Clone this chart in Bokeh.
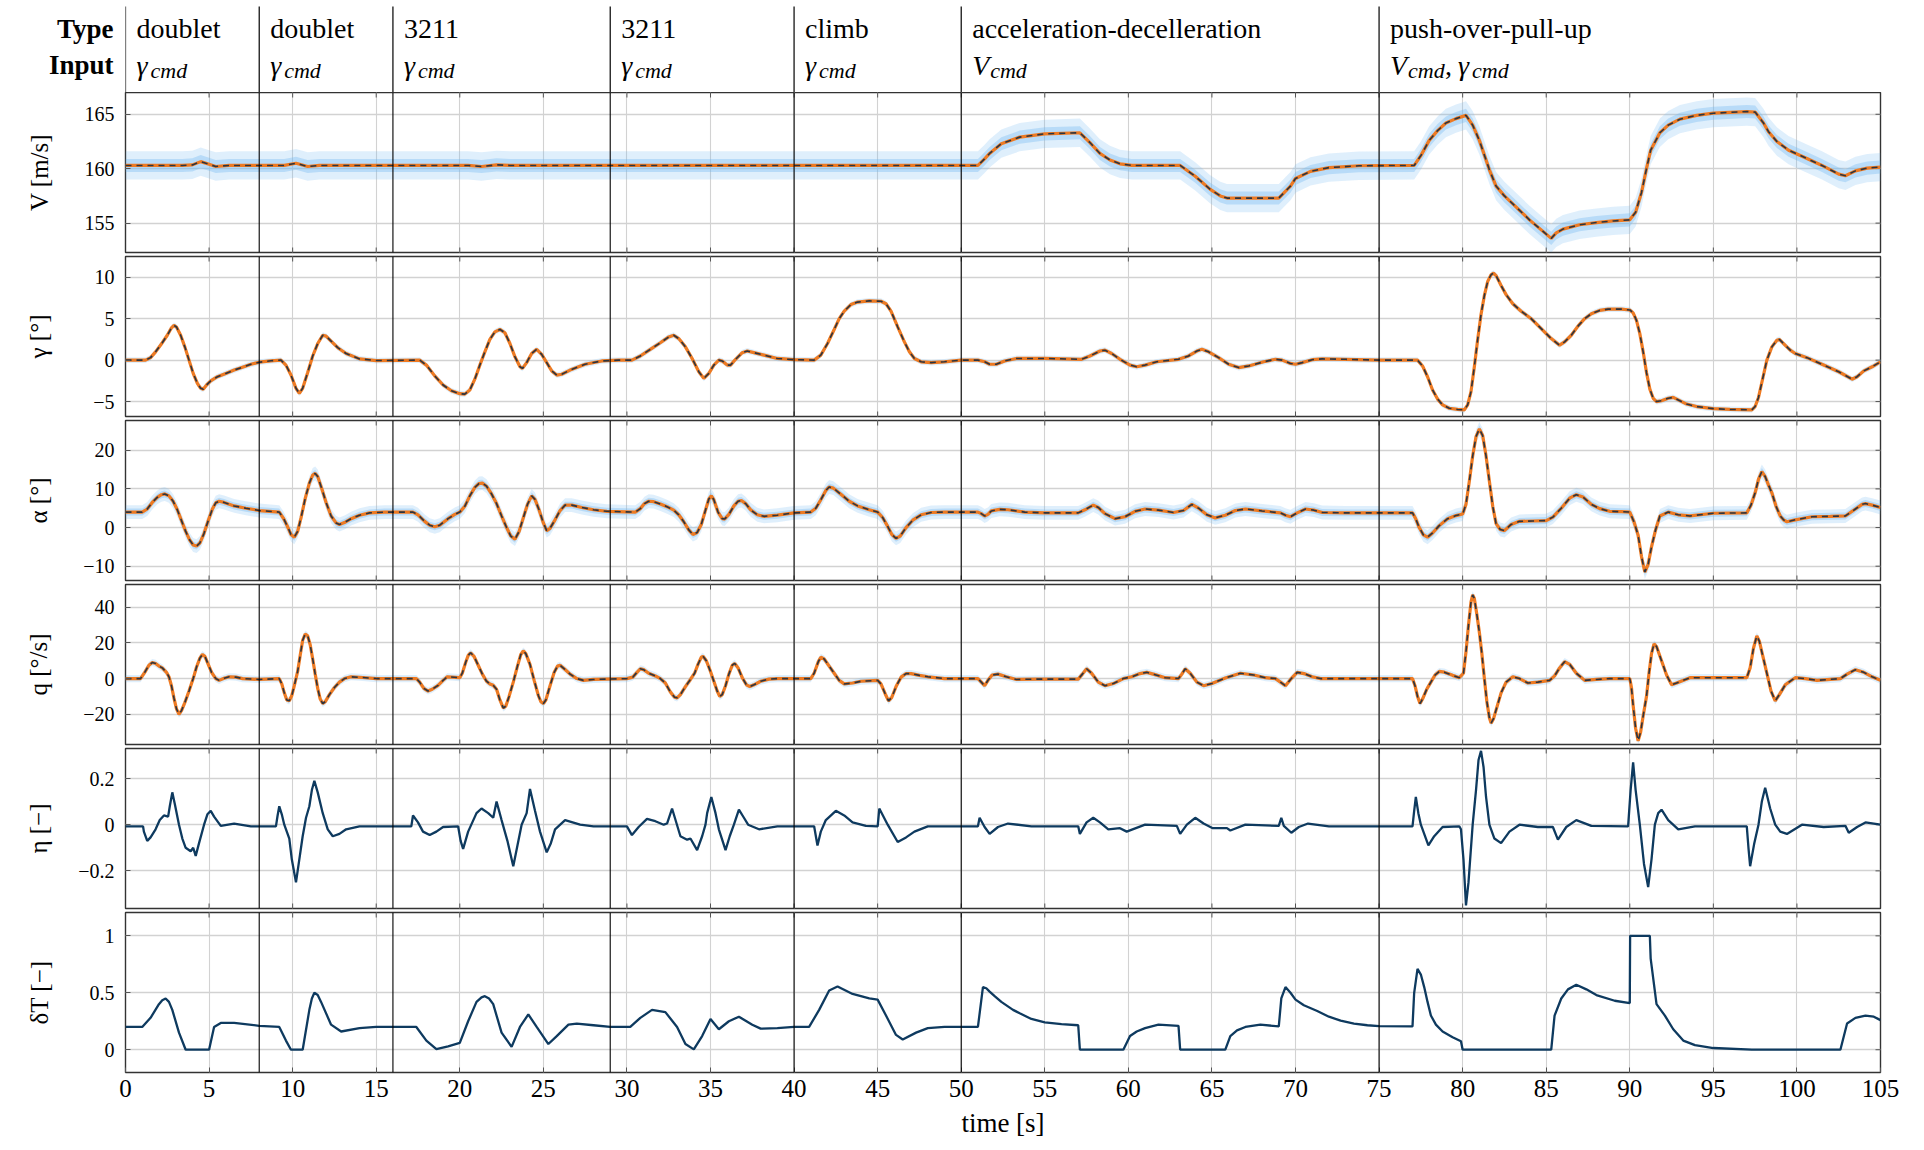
import numpy as np
from bokeh.plotting import figure
from bokeh.layouts import column
from bokeh.models import Range1d, FixedTicker, Span
from bokeh.embed import file_html
from bokeh.resources import INLINE
from bokeh.core.properties import value

SERIF = "Liberation Serif"

# manoeuvre segments of the flight test
phase_start = [0, 8, 16, 29, 40, 50, 75]
phase_type = ["doublet", "doublet", "3211", "3211", "climb",
              "acceleration-decelleration", "push-over-pull-up"]
phase_input = [["γ"], ["γ"], ["γ"], ["γ"], ["γ"], ["V"], ["V", "γ"]]
row_titles = ["Type", "Input"]

time_ticks = list(range(0, 106, 5))

# airspeed V [m/s]  (time, value)
V_data = [(0, 160.3), (3.4, 160.3), (4.0, 160.35), (4.5, 160.65), (5.0, 160.4), (5.4, 160.2),
          (6.2, 160.3), (9.5, 160.3), (10.2, 160.5), (10.9, 160.2), (11.6, 160.3), (20.5, 160.3),
          (21.3, 160.2), (22.2, 160.35), (23.0, 160.3), (35.0, 160.3), (51.0, 160.3), (51.4, 160.9),
          (51.7, 161.4), (52.4, 162.3), (53.5, 162.9), (55.0, 163.2), (57.1, 163.3), (57.7, 162.4),
          (58.3, 161.4), (58.9, 160.8), (59.5, 160.45), (60.2, 160.3), (63.1, 160.3), (64.0, 159.3),
          (64.9, 158.1), (65.5, 157.5), (65.9, 157.3), (69.0, 157.3), (69.7, 158.4), (70.0, 159.1),
          (70.9, 159.75), (72.0, 160.1), (73.8, 160.27), (77.1, 160.3), (77.5, 161.2), (78.0, 162.6),
          (78.5, 163.5), (79.0, 164.2), (79.6, 164.6), (80.2, 164.9), (80.6, 164.0), (81.0, 162.6),
          (81.6, 159.9), (82.0, 158.4), (82.5, 157.5), (83.05, 156.7), (84.0, 155.3), (85.3, 153.6),
          (85.6, 154.1), (86.0, 154.45), (87.0, 154.85), (88.0, 155.05), (89.0, 155.2), (90.0, 155.3),
          (90.35, 156.0), (90.7, 157.8), (91.0, 160.0), (91.25, 161.7), (91.8, 163.3), (92.3, 164.0),
          (93.0, 164.55), (94.0, 164.9), (95.0, 165.1), (97.0, 165.25), (97.5, 165.2), (98.0, 164.2),
          (98.3, 163.4), (98.8, 162.5), (99.5, 161.7), (100.5, 161.0), (101.5, 160.3), (102.5, 159.5),
          (102.9, 159.35), (103.5, 159.8), (104.2, 160.05), (105.0, 160.15)]

# flight path angle gamma [deg]
gamma_data = [(0, 0), (1.2, 0), (1.5, 0.3), (1.8, 1.0), (2.2, 2.1), (2.5, 3.0), (2.75, 3.9), (2.9, 4.2),
              (3.05, 4.0), (3.3, 3.0), (3.55, 1.6), (3.8, 0), (4.05, -1.6), (4.3, -2.8), (4.5, -3.4),
              (4.65, -3.5), (4.85, -3.0), (5.1, -2.5), (5.5, -2.0), (6.0, -1.6), (6.5, -1.2), (7.0, -0.85),
              (7.5, -0.5), (8.0, -0.25), (8.7, -0.08), (9.3, 0), (9.6, -0.6), (9.9, -1.8), (10.2, -3.4),
              (10.4, -4.0), (10.6, -3.4), (10.9, -1.5), (11.2, 0.5), (11.5, 2.0), (11.8, 3.0), (12.0, 2.9),
              (12.3, 2.3), (12.7, 1.5), (13.2, 0.8), (14.0, 0.15), (15.0, -0.05), (17.6, 0), (18.0, -0.6),
              (18.5, -1.9), (19.0, -3.0), (19.5, -3.7), (20.0, -4.05), (20.3, -4.1), (20.6, -3.6),
              (20.9, -2.3), (21.2, -0.6), (21.5, 1.0), (21.8, 2.5), (22.1, 3.4), (22.4, 3.7), (22.7, 3.3),
              (23.0, 2.0), (23.3, 0.4), (23.6, -0.8), (23.75, -1.0), (24.0, -0.3), (24.3, 0.8), (24.6, 1.3),
              (24.9, 0.7), (25.2, -0.3), (25.5, -1.3), (25.8, -1.8), (26.1, -1.7), (26.6, -1.2),
              (27.5, -0.5), (28.5, -0.1), (29.5, 0), (30.3, 0), (30.8, 0.5), (31.4, 1.3), (32.0, 2.1),
              (32.5, 2.8), (32.8, 3.0), (33.1, 2.6), (33.5, 1.6), (33.9, 0.2), (34.3, -1.4), (34.6, -2.2),
              (34.9, -1.6), (35.2, -0.6), (35.5, 0), (35.7, -0.1), (36.0, -0.6), (36.2, -0.6), (36.5, 0.1),
              (36.9, 0.9), (37.2, 1.1), (37.6, 0.9), (38.2, 0.6), (39.0, 0.2), (40.0, 0.05), (41.2, 0),
              (41.6, 0.6), (42.0, 2.0), (42.4, 3.7), (42.7, 5.0), (43.0, 5.9), (43.4, 6.7), (43.8, 7.0),
              (44.5, 7.15), (45.2, 7.1), (45.5, 6.8), (45.8, 5.9), (46.2, 4.0), (46.6, 2.2), (46.9, 1.0),
              (47.2, 0.2), (47.6, -0.2), (48.2, -0.3), (49.0, -0.2), (50.0, 0), (51.0, 0), (51.4, -0.2),
              (51.7, -0.5), (52.1, -0.5), (52.6, -0.1), (53.3, 0.2), (55.0, 0.2), (57.2, 0.1), (57.7, 0.5),
              (58.3, 1.1), (58.6, 1.2), (59.0, 0.8), (59.5, 0.1), (60.1, -0.6), (60.5, -0.8), (61.0, -0.6),
              (61.7, -0.2), (63.0, 0.1), (63.6, 0.5), (64.1, 1.1), (64.4, 1.3), (64.8, 1.0), (65.4, 0.3),
              (66.0, -0.5), (66.6, -0.9), (67.2, -0.7), (68.1, -0.2), (68.8, 0.1), (69.2, 0.0), (69.7, -0.4),
              (70.0, -0.5), (70.4, -0.3), (71.0, 0.05), (71.6, 0.15), (73.0, 0.1), (75.0, 0), (77.3, 0),
              (77.6, -0.7), (77.9, -2.0), (78.2, -3.6), (78.5, -4.7), (78.8, -5.4), (79.2, -5.8),
              (79.7, -5.95), (80.1, -6.0), (80.3, -5.4), (80.5, -3.8), (80.7, -0.8), (80.9, 2.5), (81.1, 5.5),
              (81.3, 7.8), (81.5, 9.5), (81.7, 10.3), (81.85, 10.5), (82.0, 10.2), (82.3, 9.0), (82.6, 7.9),
              (83.0, 6.8), (83.5, 5.9), (84.1, 5.0), (84.7, 3.8), (85.3, 2.6), (85.8, 1.8), (86.1, 2.2),
              (86.5, 3.0), (86.9, 4.1), (87.3, 5.0), (87.7, 5.6), (88.2, 6.0), (88.7, 6.15), (89.5, 6.15),
              (90.0, 6.05), (90.2, 5.7), (90.4, 4.8), (90.6, 3.2), (90.8, 1.0), (91.0, -1.5), (91.2, -3.5),
              (91.4, -4.6), (91.6, -5.0), (91.9, -4.9), (92.3, -4.6), (92.6, -4.5), (92.9, -4.8),
              (93.4, -5.3), (94.0, -5.6), (95.0, -5.85), (96.0, -5.95), (97.3, -6.0), (97.5, -5.6),
              (97.7, -4.5), (97.9, -2.7), (98.2, 0), (98.5, 1.6), (98.8, 2.4), (98.95, 2.5), (99.2, 2.0),
              (99.6, 1.2), (99.9, 0.8), (100.6, 0.3), (101.5, -0.5), (102.5, -1.4), (103.3, -2.3),
              (103.6, -2.0), (104.0, -1.3), (104.5, -0.8), (105.0, -0.2)]

# angle of attack alpha [deg]
alpha_data = [(0, 4.0), (1.0, 4.0), (1.3, 4.8), (1.6, 6.5), (1.9, 7.8), (2.15, 8.5), (2.35, 8.7), (2.6, 8.2),
              (2.85, 6.8), (3.1, 4.6), (3.35, 1.8), (3.6, -1.0), (3.85, -3.3), (4.05, -4.5), (4.25, -4.8),
              (4.45, -4.0), (4.7, -1.5), (4.95, 1.8), (5.2, 4.8), (5.4, 6.4), (5.6, 6.8), (5.9, 6.5),
              (6.5, 5.6), (7.2, 5.0), (8.0, 4.4), (9.2, 4.0), (9.45, 2.4), (9.7, 0.2), (9.9, -1.8),
              (10.1, -2.5), (10.3, -1.0), (10.5, 2.5), (10.75, 7.5), (11.0, 11.5), (11.2, 13.6),
              (11.35, 14.0), (11.5, 13.2), (11.75, 10.0), (12.0, 6.5), (12.3, 3.0), (12.6, 1.2), (12.8, 0.8),
              (13.1, 1.3), (13.5, 2.3), (14.0, 3.2), (14.6, 3.8), (15.5, 4.0), (17.2, 4.0), (17.5, 3.3),
              (17.9, 1.6), (18.2, 0.6), (18.5, 0.2), (18.8, 0.6), (19.3, 2.3), (19.7, 3.4), (20.0, 4.0),
              (20.3, 5.5), (20.6, 8.2), (20.9, 10.4), (21.15, 11.4), (21.35, 11.5), (21.6, 10.7),
              (21.9, 8.7), (22.2, 6.2), (22.5, 3.0), (22.8, 0.0), (23.05, -2.2), (23.3, -3.0), (23.55, -1.0),
              (23.8, 2.5), (24.05, 6.0), (24.3, 8.2), (24.5, 7.3), (24.75, 4.5), (25.0, 1.2), (25.2, -0.8),
              (25.4, -0.2), (25.7, 2.0), (26.0, 4.4), (26.3, 5.8), (26.7, 5.8), (27.3, 5.2), (28.0, 4.6),
              (28.8, 4.2), (30.5, 4.0), (30.8, 4.9), (31.05, 6.2), (31.3, 6.8), (31.6, 6.7), (32.0, 6.1),
              (32.4, 5.4), (32.8, 4.5), (33.1, 3.3), (33.4, 1.5), (33.7, -0.6), (33.95, -1.8), (34.2, -1.3),
              (34.45, 0.8), (34.7, 4.5), (34.9, 7.4), (35.05, 8.2), (35.2, 7.2), (35.45, 4.0), (35.7, 2.3),
              (35.85, 2.2), (36.1, 3.4), (36.4, 5.6), (36.65, 6.8), (36.85, 7.0), (37.1, 6.2), (37.4, 4.6),
              (37.8, 3.3), (38.2, 2.9), (39.0, 3.2), (40.0, 3.8), (41.0, 4.0), (41.3, 5.0), (41.6, 7.2),
              (41.9, 9.6), (42.1, 10.5), (42.35, 10.2), (42.8, 8.6), (43.3, 6.8), (43.8, 5.6), (44.5, 4.6),
              (45.0, 4.0), (45.3, 2.6), (45.6, 0.3), (45.85, -1.8), (46.1, -2.8), (46.35, -2.2), (46.7, 0.0),
              (47.1, 1.9), (47.6, 3.3), (48.2, 3.9), (49.0, 4.0), (51.0, 4.0), (51.2, 3.6), (51.4, 3.0),
              (51.6, 3.4), (51.8, 4.3), (52.3, 4.7), (52.8, 4.6), (53.8, 4.0), (55.0, 3.8), (57.0, 3.8),
              (57.4, 4.6), (57.9, 5.8), (58.2, 5.2), (58.6, 3.6), (59.2, 2.3), (59.8, 2.8), (60.4, 4.2),
              (61.0, 4.8), (61.8, 4.5), (62.7, 3.9), (63.3, 4.4), (63.8, 6.0), (64.2, 5.0), (64.7, 3.3),
              (65.2, 2.5), (65.8, 3.2), (66.4, 4.4), (67.0, 4.8), (68.0, 4.3), (69.1, 3.8), (69.4, 3.2),
              (69.7, 2.8), (70.1, 3.8), (70.6, 4.8), (71.1, 4.5), (71.6, 3.9), (73.0, 3.8), (77.0, 3.8),
              (77.2, 2.2), (77.4, 0.0), (77.65, -1.9), (77.9, -2.5), (78.2, -1.4), (78.6, 0.5), (79.1, 2.3),
              (79.6, 3.1), (80.0, 3.5), (80.2, 6.0), (80.4, 12.0), (80.6, 18.5), (80.8, 23.5), (81.0, 25.5),
              (81.2, 23.8), (81.4, 18.5), (81.6, 12.0), (81.8, 5.5), (82.0, 1.0), (82.25, -0.5), (82.5, -0.8),
              (82.9, 0.8), (83.4, 1.6), (84.2, 1.7), (85.0, 1.8), (85.4, 2.7), (85.9, 5.0), (86.4, 7.6),
              (86.8, 8.5), (87.2, 7.9), (87.7, 6.0), (88.2, 4.9), (88.8, 4.2), (89.5, 4.1), (90.0, 4.0),
              (90.25, 1.5), (90.5, -2.0), (90.7, -7.5), (90.9, -11.5), (91.1, -9.5), (91.3, -5.0),
              (91.55, -0.5), (91.8, 3.0), (92.3, 4.0), (92.9, 3.3), (93.6, 3.0), (95.0, 3.7), (97.0, 3.8),
              (97.25, 5.8), (97.5, 9.0), (97.7, 12.5), (97.9, 14.5), (98.1, 13.2), (98.3, 11.0), (98.5, 9.0),
              (98.75, 5.5), (99.0, 3.0), (99.2, 2.0), (99.4, 1.5), (99.9, 2.0), (100.9, 2.8), (102.0, 2.9),
              (102.9, 3.0), (103.5, 4.8), (103.9, 6.0), (104.1, 6.2), (104.5, 5.8), (105.0, 5.2)]

# pitch rate q [deg/s]
q_data = [(0, 0), (0.9, 0), (1.15, 3.5), (1.4, 7.5), (1.6, 9.0), (1.8, 8.5), (2.0, 7.0), (2.2, 6.0),
          (2.45, 3.5), (2.6, 1.0), (2.75, -4.0), (2.9, -11.0), (3.05, -17.0), (3.2, -20.0), (3.35, -18.0),
          (3.55, -13.5), (3.8, -7.0), (4.05, 0.0), (4.25, 6.5), (4.45, 11.5), (4.6, 13.5), (4.75, 12.5),
          (4.95, 8.0), (5.15, 3.5), (5.4, 0.0), (5.6, -1.0), (5.9, 0.2), (6.2, 1.0), (6.6, 0.8), (7.0, 0),
          (8.0, -0.5), (9.2, 0), (9.35, -3.0), (9.5, -8.0), (9.65, -12.0), (9.8, -12.5), (9.95, -9.5),
          (10.1, -4.0), (10.3, 4.0), (10.45, 13.0), (10.6, 21.5), (10.75, 25.0), (10.9, 24.0),
          (11.05, 19.0), (11.2, 11.0), (11.35, 2.5), (11.5, -5.5), (11.65, -11.5), (11.8, -14.0),
          (11.95, -13.0), (12.2, -9.0), (12.5, -5.0), (12.8, -2.0), (13.1, 0.0), (13.5, 1.0), (14.2, 0.6),
          (15.0, 0), (17.4, 0), (17.6, -2.0), (17.85, -5.5), (18.1, -7.0), (18.35, -6.0), (18.7, -3.8),
          (19.0, -1.0), (19.25, 1.0), (20.0, 0.5), (20.15, 3.0), (20.35, 9.0), (20.5, 13.0), (20.65, 14.5),
          (20.85, 12.5), (21.1, 7.5), (21.35, 2.5), (21.6, -1.5), (21.8, -3.0), (22.0, -3.8), (22.2, -6.0),
          (22.4, -12.0), (22.6, -16.5), (22.75, -15.5), (22.95, -10.0), (23.2, -2.0), (23.45, 7.0),
          (23.65, 13.5), (23.8, 15.5), (23.95, 14.0), (24.2, 8.0), (24.45, -1.0), (24.7, -9.5),
          (24.85, -13.0), (25.0, -14.0), (25.15, -12.0), (25.4, -4.0), (25.65, 3.5), (25.85, 7.0),
          (26.0, 7.5), (26.25, 5.5), (26.6, 2.5), (27.0, 0.0), (27.4, -1.0), (28.0, -0.5), (30.0, 0),
          (30.35, 0.8), (30.6, 3.5), (30.8, 5.5), (31.0, 5.0), (31.3, 3.0), (31.7, 1.5), (32.0, 0),
          (32.3, -2.5), (32.6, -7.5), (32.85, -10.5), (33.0, -10.8), (33.2, -9.0), (33.5, -4.5),
          (33.8, -0.5), (34.05, 3.0), (34.25, 8.0), (34.45, 12.0), (34.55, 12.5), (34.75, 10.0),
          (35.0, 4.0), (35.2, -1.5), (35.4, -7.0), (35.55, -10.0), (35.7, -9.0), (35.9, -4.0), (36.1, 2.5),
          (36.3, 7.5), (36.45, 8.5), (36.65, 6.0), (36.9, 0.5), (37.15, -3.5), (37.35, -4.5), (37.6, -3.5),
          (38.0, -1.5), (38.5, -0.3), (39.0, 0), (41.0, 0), (41.2, 3.0), (41.45, 9.5), (41.6, 12.0),
          (41.8, 11.0), (42.1, 7.0), (42.4, 3.0), (42.7, -1.0), (43.0, -3.0), (43.5, -2.5), (44.0, -1.5),
          (45.0, -1.0), (45.2, -3.0), (45.45, -8.5), (45.65, -12.5), (45.85, -10.5), (46.1, -4.5),
          (46.4, 0.8), (46.7, 2.8), (47.0, 2.8), (47.5, 1.8), (48.0, 1.0), (49.0, 0), (51.0, 0),
          (51.2, -2.0), (51.4, -4.0), (51.6, -1.0), (51.85, 2.0), (52.2, 2.5), (52.7, 1.0), (53.3, -0.5),
          (54.5, -0.3), (57.0, -0.3), (57.25, 2.5), (57.5, 5.5), (57.8, 3.0), (58.2, -2.0), (58.6, -4.0),
          (59.1, -2.8), (59.7, 0.0), (60.2, 1.0), (60.7, 2.8), (61.1, 3.5), (61.6, 2.2), (62.2, 0.5),
          (63.0, 0), (63.2, 2.5), (63.4, 5.5), (63.7, 3.0), (64.1, -2.0), (64.5, -4.0), (65.0, -2.8),
          (65.8, 0.3), (66.7, 3.0), (67.5, 2.0), (68.2, 0.5), (68.8, 0), (69.1, -2.0), (69.4, -4.0),
          (69.7, -0.5), (70.1, 3.5), (70.5, 2.8), (71.0, 1.0), (71.5, 0), (73.0, 0), (77.0, 0),
          (77.15, -4.0), (77.3, -10.0), (77.45, -14.0), (77.6, -11.5), (77.85, -6.0), (78.1, -2.0),
          (78.35, 2.0), (78.6, 4.0), (78.9, 3.6), (79.4, 1.8), (79.8, 0.5), (80.05, 3.0), (80.2, 15.0),
          (80.35, 30.0), (80.5, 43.0), (80.6, 47.0), (80.7, 45.0), (80.85, 36.0), (81.0, 26.0),
          (81.15, 14.0), (81.3, 0.0), (81.45, -13.0), (81.6, -22.0), (81.7, -25.0), (81.85, -22.5),
          (82.05, -16.0), (82.3, -8.0), (82.6, -2.0), (83.0, 1.0), (83.4, 0.0), (83.9, -2.5), (84.5, -2.0),
          (85.2, -1.0), (85.5, 1.5), (85.8, 6.0), (86.1, 9.5), (86.4, 8.0), (86.8, 3.0), (87.3, -1.0),
          (88.0, -0.5), (88.8, 0), (90.0, 0), (90.1, -5.0), (90.2, -15.0), (90.35, -28.0), (90.5, -35.0),
          (90.65, -30.0), (90.8, -21.0), (91.0, -10.0), (91.15, 3.0), (91.3, 14.0), (91.45, 19.5),
          (91.6, 18.0), (91.9, 10.0), (92.2, 2.0), (92.5, -3.5), (92.8, -2.5), (93.6, 0.5), (97.0, 0.5),
          (97.2, 6.0), (97.4, 17.0), (97.6, 24.0), (97.75, 21.0), (97.95, 13.0), (98.2, 3.0),
          (98.45, -7.0), (98.7, -12.5), (98.95, -9.0), (99.3, -3.5), (99.9, 0.5), (100.5, 0.0),
          (101.2, -1.0), (102.6, 0), (103.0, 2.5), (103.5, 5.0), (104.0, 3.5), (104.5, 1.0), (105.0, -1.0)]

# elevator command eta [-]
eta_data = [(0, -0.007), (1.05, -0.007), (1.1, -0.03), (1.3, -0.07), (1.5, -0.055), (1.8, -0.02),
            (2.05, 0.02), (2.3, 0.04), (2.55, 0.035), (2.65, 0.08), (2.8, 0.14), (2.95, 0.09), (3.2, 0.0),
            (3.4, -0.06), (3.6, -0.10), (3.9, -0.115), (4.05, -0.10), (4.2, -0.135), (4.4, -0.08),
            (4.7, 0.0), (4.9, 0.045), (5.1, 0.06), (5.3, 0.035), (5.7, -0.005), (6.5, 0.005),
            (7.5, -0.007), (9.0, -0.007), (9.1, 0.04), (9.2, 0.08), (9.35, 0.045), (9.5, 0.0),
            (9.8, -0.06), (9.95, -0.15), (10.2, -0.25), (10.4, -0.15), (10.6, -0.05), (10.8, 0.03),
            (11.0, 0.08), (11.15, 0.15), (11.3, 0.19), (11.5, 0.14), (11.8, 0.05), (12.1, -0.02),
            (12.4, -0.05), (12.8, -0.04), (13.2, -0.02), (14.0, -0.007), (17.1, -0.007), (17.2, 0.04),
            (17.5, 0.01), (17.8, -0.03), (18.2, -0.045), (18.6, -0.03), (19.0, -0.01), (19.9, -0.007),
            (20.05, -0.07), (20.2, -0.105), (20.5, -0.03), (21.0, 0.05), (21.3, 0.07), (21.7, 0.05),
            (22.0, 0.03), (22.2, 0.10), (22.5, 0.02), (22.85, -0.07), (23.2, -0.18), (23.45, -0.09),
            (23.7, 0.0), (24.0, 0.05), (24.2, 0.155), (24.5, 0.06), (24.8, -0.03), (25.2, -0.12),
            (25.45, -0.08), (25.7, -0.02), (26.3, 0.02), (27.2, 0.0), (28.0, -0.007), (30.0, -0.007),
            (30.3, -0.045), (30.7, -0.01), (31.2, 0.025), (31.7, 0.015), (32.2, 0.0), (32.4, 0.005),
            (32.7, 0.07), (33.2, -0.05), (33.6, -0.065), (33.8, -0.06), (34.2, -0.11), (34.5, -0.05),
            (34.7, 0.0), (34.8, 0.05), (35.05, 0.12), (35.3, 0.05), (35.5, -0.02), (35.9, -0.11),
            (36.15, -0.05), (36.4, 0.0), (36.7, 0.065), (37.0, 0.03), (37.25, 0.0), (37.9, -0.02),
            (39.0, -0.007), (41.2, -0.007), (41.4, -0.09), (41.6, -0.03), (41.9, 0.02), (42.5, 0.06),
            (43.0, 0.04), (43.5, 0.01), (44.3, -0.005), (45.0, -0.007), (45.1, 0.07), (45.6, 0.0),
            (46.2, -0.075), (46.7, -0.055), (47.2, -0.03), (48.0, -0.007), (51.0, -0.007), (51.1, 0.03),
            (51.4, -0.01), (51.7, -0.04), (52.2, -0.01), (52.8, 0.005), (54.2, -0.007), (57.0, -0.007),
            (57.1, -0.04), (57.5, 0.01), (57.9, 0.03), (58.3, 0.01), (58.8, -0.02), (59.5, -0.015),
            (59.9, -0.03), (61.0, 0.0), (62.9, -0.005), (63.1, -0.04), (63.5, 0.0), (64.0, 0.03),
            (64.5, 0.005), (65.05, -0.015), (65.9, -0.015), (66.1, -0.025), (67.0, 0.0), (69.0, -0.005),
            (69.15, 0.03), (69.3, -0.005), (69.75, -0.035), (70.2, -0.01), (70.75, 0.005), (72.0, -0.007),
            (77.0, -0.007), (77.1, 0.06), (77.2, 0.12), (77.35, 0.05), (77.5, 0.0), (77.95, -0.09),
            (78.3, -0.05), (78.8, -0.01), (79.8, -0.007), (79.9, -0.02), (80.05, -0.15), (80.2, -0.35),
            (80.35, -0.25), (80.6, 0.0), (80.8, 0.15), (80.95, 0.28), (81.1, 0.32), (81.25, 0.25),
            (81.4, 0.12), (81.6, 0.0), (81.9, -0.06), (82.3, -0.08), (82.8, -0.03), (83.4, 0.0),
            (84.5, -0.01), (85.4, -0.01), (85.7, -0.065), (86.2, -0.01), (86.8, 0.02), (87.7, -0.005),
            (89.9, -0.007), (90.05, 0.15), (90.2, 0.27), (90.35, 0.15), (90.6, 0.0), (90.85, -0.17),
            (91.1, -0.27), (91.3, -0.15), (91.5, 0.0), (91.7, 0.05), (91.9, 0.065), (92.3, 0.02),
            (92.9, -0.02), (93.9, -0.007), (97.0, -0.007), (97.1, -0.1), (97.2, -0.18), (97.45, -0.08),
            (97.7, 0.0), (97.9, 0.1), (98.1, 0.16), (98.4, 0.07), (98.7, 0.0), (99.0, -0.03),
            (99.4, -0.04), (100.3, 0.0), (101.6, -0.01), (102.9, -0.005), (103.1, -0.035), (103.6, -0.01),
            (104.1, 0.01), (105.0, 0.0)]

# throttle command delta_T [-]
deltaT_data = [(0, 0.2), (1.0, 0.2), (1.5, 0.28), (2.0, 0.40), (2.2, 0.435), (2.4, 0.45), (2.6, 0.42),
               (2.8, 0.35), (3.2, 0.15), (3.6, 0.0), (5.0, 0.0), (5.3, 0.2), (5.7, 0.235), (6.5, 0.235),
               (8.0, 0.21), (9.2, 0.2), (9.6, 0.08), (9.9, 0.0), (10.6, 0.0), (11.0, 0.35), (11.15, 0.45),
               (11.3, 0.5), (11.5, 0.48), (11.7, 0.42), (12.3, 0.22), (12.9, 0.16), (14.0, 0.19),
               (15.0, 0.2), (17.4, 0.2), (18.0, 0.08), (18.6, 0.005), (19.3, 0.03), (20.0, 0.06),
               (20.5, 0.25), (21.0, 0.42), (21.3, 0.46), (21.5, 0.47), (21.75, 0.45), (22.0, 0.4),
               (22.5, 0.15), (23.1, 0.025), (23.6, 0.2), (24.1, 0.31), (24.6, 0.2), (25.3, 0.05),
               (25.8, 0.12), (26.5, 0.22), (27.0, 0.23), (28.0, 0.215), (29.0, 0.2), (30.2, 0.2),
               (30.8, 0.28), (31.5, 0.35), (32.3, 0.33), (33.0, 0.2), (33.5, 0.05), (34.0, 0.003),
               (34.5, 0.12), (35.0, 0.27), (35.5, 0.18), (36.1, 0.25), (36.7, 0.29), (37.5, 0.22),
               (38.0, 0.185), (39.0, 0.19), (40.0, 0.2), (40.9, 0.2), (41.5, 0.35), (42.1, 0.52),
               (42.6, 0.555), (43.5, 0.49), (44.5, 0.45), (45.0, 0.44), (45.5, 0.3), (46.1, 0.13),
               (46.5, 0.09), (47.3, 0.15), (48.0, 0.19), (49.0, 0.2), (51.0, 0.2), (51.3, 0.55),
               (51.5, 0.54), (51.7, 0.51), (52.0, 0.47), (52.4, 0.42), (52.75, 0.385), (53.1, 0.35),
               (53.5, 0.32), (54.2, 0.27), (55.0, 0.24), (56.0, 0.225), (57.0, 0.215), (57.1, 0.0),
               (59.7, 0.0), (60.1, 0.12), (60.5, 0.16), (61.0, 0.19), (61.8, 0.22), (63.0, 0.21), (63.1, 0.0),
               (65.8, 0.0), (66.1, 0.12), (66.5, 0.17), (67.0, 0.2), (67.9, 0.22), (69.0, 0.205),
               (69.15, 0.45), (69.4, 0.55), (69.7, 0.5), (70.0, 0.44), (70.5, 0.39), (71.3, 0.34),
               (72.0, 0.29), (72.7, 0.255), (73.5, 0.23), (74.3, 0.215), (75.0, 0.207), (77.0, 0.205),
               (77.1, 0.5), (77.3, 0.71), (77.5, 0.66), (77.7, 0.55), (77.9, 0.42), (78.1, 0.3),
               (78.4, 0.22), (78.8, 0.16), (79.4, 0.11), (79.9, 0.075), (80.0, 0.0), (85.3, 0.0),
               (85.5, 0.3), (85.9, 0.45), (86.3, 0.53), (86.8, 0.57), (87.4, 0.53), (88.0, 0.48),
               (89.1, 0.43), (90.0, 0.41), (90.02, 1.0), (91.2, 1.0), (91.25, 0.8), (91.6, 0.4),
               (92.1, 0.3), (92.6, 0.18), (93.2, 0.08), (93.9, 0.04), (95.0, 0.015), (97.3, 0.0),
               (102.6, 0.0), (103.0, 0.23), (103.5, 0.28), (104.1, 0.3), (104.6, 0.29), (105.0, 0.26)]

ORANGE = "#ee7a22"
DARK = "#2b3440"
NAVY = "#0e3a5f"
NOISE = "#6fb6f0"
GRID = "#d2d2d2"
FRAME = "#333333"
TICK = "#555555"

LEFT, FRAME_W, RIGHT, FRAME_H = 125, 1755, 44, 160


def split(pairs):
    t = np.array([p[0] for p in pairs], dtype=float)
    v = np.array([p[1] for p in pairs], dtype=float)
    return t, v


def tick_text(v):
    s = ("%g" % abs(v))
    return ("\u2212" + s) if v < 0 else s


panels = [
    dict(label="V [m/s]", data=V_data, yr=(152.3, 167.0), ticks=[155, 160, 165],
         noise=(1.3, 0.6), est=True, standoff=29),
    dict(label="γ [°]", data=gamma_data, yr=(-6.8, 12.5), ticks=[-5, 0, 5, 10],
         noise=(0.35, 0.18), est=True, standoff=38),
    dict(label="α [°]", data=alpha_data, yr=(-13.7, 27.7), ticks=[-10, 0, 10, 20],
         noise=(1.8, 0.9), est=True, standoff=28),
    dict(label="q [°/s]", data=q_data, yr=(-37.0, 52.8), ticks=[-20, 0, 20, 40],
         noise=(2.0, 1.0), est=True, standoff=28),
    dict(label="η [−]", data=eta_data, yr=(-0.363, 0.33), ticks=[-0.2, 0, 0.2],
         noise=None, est=False, standoff=23),
    dict(label="δT [−]", data=deltaT_data, yr=(-0.2, 1.205), ticks=[0, 0.5, 1],
         noise=None, est=False, standoff=34),
]

figs = []

# header row: manoeuvre type and commanded input per segment;
# the row titles sit on the left axis of the header
ROW_Y = [28, 64]
head = figure(frame_width=FRAME_W, frame_height=92, x_range=Range1d(0, 105), y_range=Range1d(92, 0),
              toolbar_location=None, output_backend="svg", x_axis_location=None,
              min_border_left=LEFT, min_border_right=RIGHT, min_border_top=0, min_border_bottom=0,
              outline_line_color=None)
head.grid.visible = False
hy = head.yaxis[0]
hy.ticker = FixedTicker(ticks=ROW_Y)
hy.major_label_overrides = {y: t for y, t in zip(ROW_Y, row_titles)}
hy.axis_line_color = None
hy.major_tick_line_color = None
hy.minor_tick_line_color = None
hy.major_tick_in = 0
hy.major_tick_out = 0
hy.major_label_standoff = 12
hy.major_label_text_font = SERIF
hy.major_label_text_font_style = "bold"
hy.major_label_text_font_size = "27px"
hy.major_label_text_color = "black"

n = len(phase_start)
head.segment(x0=phase_start, y0=[6] * n, x1=phase_start, y1=[92] * n, line_color="black", line_width=1.2)
head.text(x=phase_start, y=[28] * n, text=phase_type, x_offset=11, text_baseline="alphabetic",
          text_font=value(SERIF), text_font_size="28px", text_color="black")

sym_x, sym_off, sym_txt = [], [], []
sub_x, sub_off = [], []
com_x, com_off = [], []
sym_w = {"γ": 14, "V": 18}
for s, inputs in zip(phase_start, phase_input):
    off = 11
    for k, sym in enumerate(inputs):
        if k > 0:
            com_x.append(s)
            com_off.append(off)
            off += 13
        sym_x.append(s)
        sym_off.append(off)
        sym_txt.append(sym)
        off += sym_w[sym]
        sub_x.append(s)
        sub_off.append(off)
        off += 37
head.text(x=sym_x, y=[65] * len(sym_x), text=sym_txt, x_offset=sym_off, text_baseline="alphabetic",
          text_font=value(SERIF), text_font_style="italic", text_font_size="28px", text_color="black")
head.text(x=sub_x, y=[70] * len(sub_x), text=["cmd"] * len(sub_x), x_offset=sub_off,
          text_baseline="alphabetic", text_font=value(SERIF), text_font_style="italic",
          text_font_size="22px", text_color="black")
head.text(x=com_x, y=[65] * len(com_x), text=[","] * len(com_x), x_offset=com_off,
          text_baseline="alphabetic", text_font=value(SERIF), text_font_size="28px", text_color="black")
figs.append(head)

inner_x = [t for t in time_ticks if 0 < t < 105]

for i, cfg in enumerate(panels):
    last = i == len(panels) - 1
    top = 0 if i == 0 else 2
    bottom = 78 if last else 2
    y0, y1 = cfg["yr"]
    p = figure(frame_width=FRAME_W, frame_height=FRAME_H, x_range=Range1d(0, 105),
               y_range=Range1d(y0, y1), toolbar_location=None, output_backend="svg",
               min_border_left=LEFT, min_border_right=RIGHT, min_border_top=top,
               min_border_bottom=bottom, x_axis_location="below" if last else None)
    p.outline_line_color = FRAME
    p.outline_line_width = 1.4

    p.xgrid.ticker = FixedTicker(ticks=time_ticks)
    p.xgrid.grid_line_color = GRID
    p.xgrid.grid_line_width = 1.1
    p.ygrid.grid_line_color = GRID
    p.ygrid.grid_line_width = 1.4

    ya = p.yaxis[0]
    ya.ticker = FixedTicker(ticks=cfg["ticks"])
    ya.major_label_overrides = {t: tick_text(t) for t in cfg["ticks"]}
    ya.axis_line_color = None
    ya.major_tick_in = 5
    ya.major_tick_out = 0
    ya.major_tick_line_color = TICK
    ya.minor_tick_line_color = None
    ya.major_label_text_font = SERIF
    ya.major_label_text_font_size = "20px"
    ya.major_label_text_color = "black"
    ya.major_label_standoff = 11
    ya.axis_label = cfg["label"]
    ya.axis_label_text_font = SERIF
    ya.axis_label_text_font_size = "25px"
    ya.axis_label_text_font_style = "normal"
    ya.axis_label_text_color = "black"
    ya.axis_label_standoff = cfg["standoff"]

    if last:
        xa = p.xaxis[0]
        xa.ticker = FixedTicker(ticks=time_ticks)
        xa.axis_line_color = None
        xa.major_tick_in = 5
        xa.major_tick_out = 0
        xa.major_tick_line_color = TICK
        xa.minor_tick_line_color = None
        xa.major_label_text_font = SERIF
        xa.major_label_text_font_size = "25px"
        xa.major_label_text_color = "black"
        xa.major_label_standoff = 7
        xa.axis_label = "time [s]"
        xa.axis_label_text_font = SERIF
        xa.axis_label_text_font_size = "27px"
        xa.axis_label_text_font_style = "normal"
        xa.axis_label_text_color = "black"
        xa.axis_label_standoff = 8

    # inner tick marks on the right, top and (for stacked panels) bottom edges
    p.scatter(x=[105] * len(cfg["ticks"]), y=cfg["ticks"], marker="dash", size=10,
              line_color=TICK, line_width=1)
    p.scatter(x=inner_x, y=[y1] * len(inner_x), marker="dash", size=10, angle=np.pi / 2,
              line_color=TICK, line_width=1)
    if not last:
        p.scatter(x=inner_x, y=[y0] * len(inner_x), marker="dash", size=10, angle=np.pi / 2,
                  line_color=TICK, line_width=1)

    for s in phase_start[1:]:
        p.add_layout(Span(location=s, dimension="height", line_color="black", line_width=1.1))

    t, v = split(cfg["data"])
    if cfg["est"]:
        outer, inner = cfg["noise"]
        p.varea(x=t, y1=v - outer, y2=v + outer, fill_color=NOISE, fill_alpha=0.22)
        p.varea(x=t, y1=v - inner, y2=v + inner, fill_color=NOISE, fill_alpha=0.35)
        p.line(t, v, line_color=ORANGE, line_width=3.2)
        p.line(t, v, line_color=DARK, line_width=1.6, line_dash="6 5")
    else:
        p.line(t, v, line_color=NAVY, line_width=2.3)
    figs.append(p)

layout = column(*figs, spacing=0)
open("out.html", "w").write(file_html(layout, INLINE))
